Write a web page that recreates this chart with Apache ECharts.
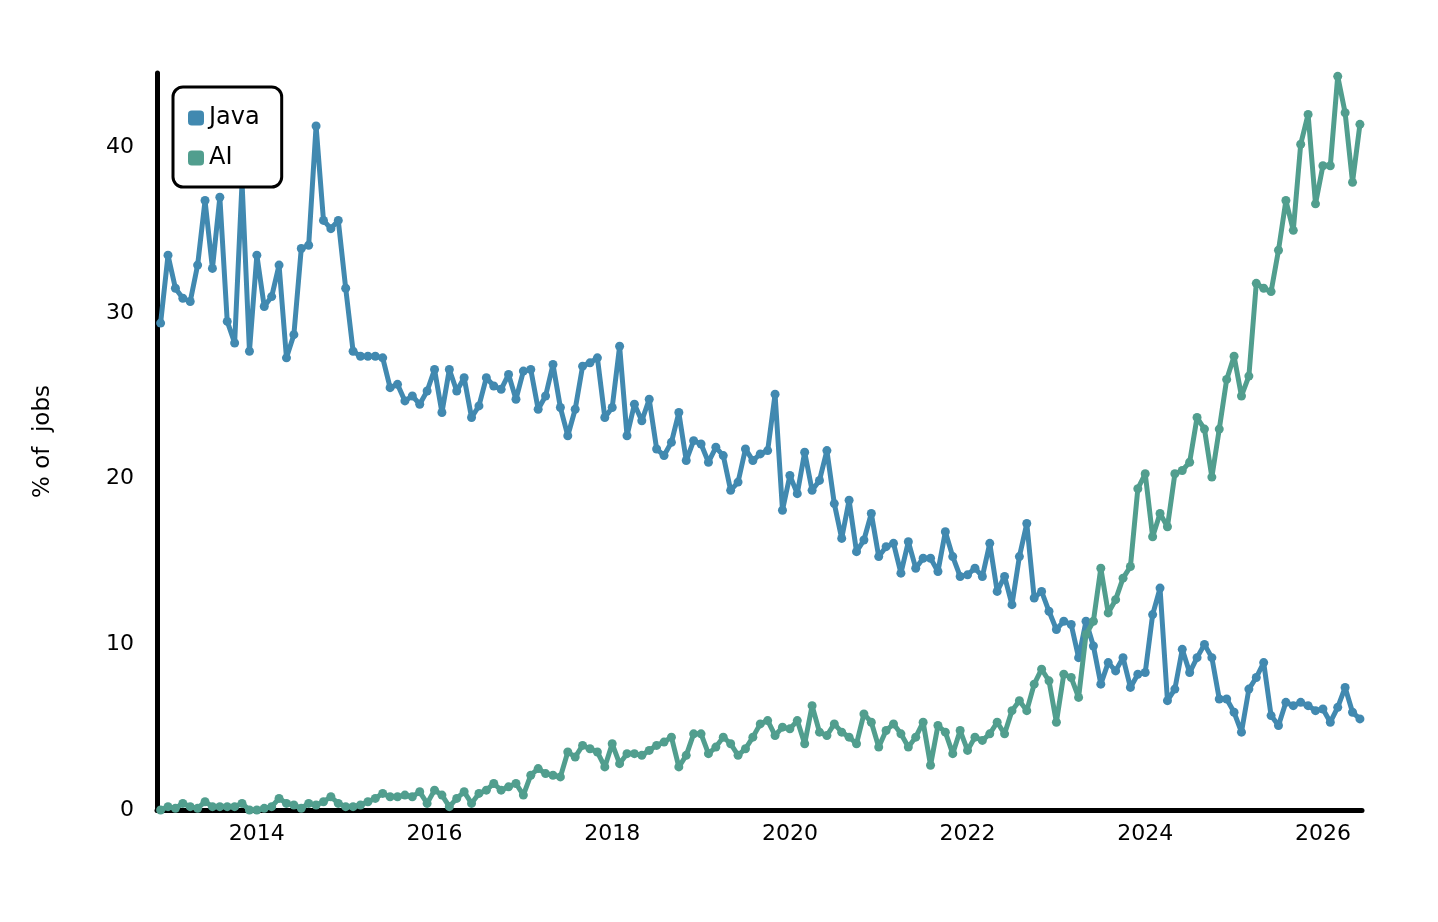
<!DOCTYPE html>
<html>
<head>
<meta charset="utf-8">
<script src="https://cdn.jsdelivr.net/npm/echarts@6/dist/echarts.min.js"></script>
<style>
  html, body { margin: 0; padding: 0; background: #fff; }
  #main { width: 1438px; height: 922px; }
</style>
</head>
<body>
<div id="main"></div>
<script>
// monthly share of job postings, first point Dec 2012
const startYear = 2012
const startMonth = 11 // 0-based, December
const javaShare = [
  29.4, 33.5, 31.5, 30.9, 30.7, 32.9, 36.8, 32.7, 37.0, 29.5, 28.2, 37.9, 27.7, 33.5, 30.4, 31.0,
  32.9, 27.3, 28.7, 33.9, 34.1, 41.3, 35.6, 35.1, 35.6, 31.5, 27.7, 27.4, 27.4, 27.4, 27.3, 25.5,
  25.7, 24.7, 25.0, 24.5, 25.3, 26.6, 24.0, 26.6, 25.3, 26.1, 23.7, 24.4, 26.1, 25.6, 25.4, 26.3,
  24.8, 26.5, 26.6, 24.2, 25.0, 26.9, 24.3, 22.6, 24.2, 26.8, 27.0, 27.3, 23.7, 24.3, 28.0, 22.6,
  24.5, 23.5, 24.8, 21.8, 21.4, 22.2, 24.0, 21.1, 22.3, 22.1, 21.0, 21.9, 21.4, 19.3, 19.8, 21.8,
  21.1, 21.5, 21.7, 25.1, 18.1, 20.2, 19.1, 21.6, 19.3, 19.9, 21.7, 18.5, 16.4, 18.7, 15.6, 16.3,
  17.9, 15.3, 15.9, 16.1, 14.3, 16.2, 14.6, 15.2, 15.2, 14.4, 16.8, 15.3, 14.1, 14.2, 14.6, 14.1,
  16.1, 13.2, 14.1, 12.4, 15.3, 17.3, 12.8, 13.2, 12.0, 10.9, 11.4, 11.2, 9.2, 11.4, 9.9, 7.6,
  8.9, 8.4, 9.2, 7.4, 8.2, 8.3, 11.8, 13.4, 6.6, 7.3, 9.7, 8.3, 9.2, 10.0, 9.2, 6.7,
  6.7, 5.9, 4.7, 7.3, 8.0, 8.9, 5.7, 5.1, 6.5, 6.3, 6.5, 6.3, 6.0, 6.1, 5.3, 6.2,
  7.4, 5.9, 5.5
]
const aiShare = [
  0.0, 0.2, 0.1, 0.4, 0.2, 0.1, 0.5, 0.2, 0.2, 0.2, 0.2, 0.4, 0.0, 0.0, 0.1, 0.2,
  0.7, 0.4, 0.3, 0.1, 0.4, 0.3, 0.5, 0.8, 0.4, 0.2, 0.2, 0.3, 0.5, 0.7, 1.0, 0.8,
  0.8, 0.9, 0.8, 1.1, 0.4, 1.2, 0.9, 0.2, 0.7, 1.1, 0.4, 1.0, 1.2, 1.6, 1.2, 1.4,
  1.6, 0.9, 2.1, 2.5, 2.2, 2.1, 2.0, 3.5, 3.2, 3.9, 3.7, 3.5, 2.6, 4.0, 2.8, 3.4,
  3.4, 3.3, 3.6, 3.9, 4.1, 4.4, 2.6, 3.3, 4.6, 4.6, 3.4, 3.8, 4.4, 4.0, 3.3, 3.7,
  4.4, 5.2, 5.4, 4.5, 5.0, 4.9, 5.4, 4.0, 6.3, 4.7, 4.5, 5.2, 4.7, 4.4, 4.0, 5.8,
  5.3, 3.8, 4.8, 5.2, 4.6, 3.8, 4.4, 5.3, 2.7, 5.1, 4.7, 3.4, 4.8, 3.6, 4.4, 4.2,
  4.6, 5.3, 4.6, 6.0, 6.6, 6.0, 7.6, 8.5, 7.8, 5.3, 8.2, 8.0, 6.8, 10.6, 11.4, 14.6,
  11.9, 12.7, 14.0, 14.7, 19.4, 20.3, 16.5, 17.9, 17.1, 20.3, 20.5, 21.0, 23.7, 23.0, 20.1, 23.0,
  26.0, 27.4, 25.0, 26.2, 31.8, 31.5, 31.3, 33.8, 36.8, 35.0, 40.2, 42.0, 36.6, 38.9, 38.9, 44.3,
  42.1, 37.9, 41.4
]
const yearTicks = [2014, 2016, 2018, 2020, 2022, 2024, 2026]

const FONT = '"DejaVu Sans", "Noto Sans", sans-serif'
const toYear = (i) => startYear + (startMonth + i) / 12

const chart = echarts.init(document.getElementById('main'))
chart.setOption({
  animation: false,
  textStyle: { fontFamily: FONT },
  grid: { left: 157, right: 76, top: 73, bottom: 112, containLabel: false },
  legend: {
    orient: 'vertical',
    left: 173,
    top: 87,
    padding: [19, 22, 17, 15],
    borderColor: '#000',
    borderWidth: 3,
    borderRadius: 10,
    backgroundColor: '#fff',
    itemWidth: 16,
    itemHeight: 15,
    itemGap: 16,
    icon: 'roundRect',
    textStyle: { fontSize: 24, color: '#000', fontFamily: FONT },
    data: ['Java', 'AI']
  },
  xAxis: {
    type: 'value',
    min: 2012.876,
    max: 2026.44,
    splitLine: { show: false },
    axisTick: { show: false },
    axisLine: { lineStyle: { color: '#000', width: 5 } },
    axisLabel: {
      customValues: yearTicks,
      color: '#000',
      fontSize: 22,
      margin: 13,
      formatter: (v) => String(Math.round(v))
    }
  },
  yAxis: {
    type: 'value',
    min: 0,
    max: 44.5,
    interval: 10,
    name: '% of  jobs',
    nameLocation: 'middle',
    nameGap: 102,
    nameRotate: 90,
    nameTextStyle: { fontSize: 23, color: '#000', fontFamily: FONT },
    splitLine: { show: false },
    axisTick: { show: false },
    axisLine: { show: true, lineStyle: { color: '#000', width: 5 } },
    axisLabel: { color: '#000', fontSize: 22, margin: 23, showMaxLabel: false }
  },
  series: [
    {
      name: 'Java',
      type: 'line',
      data: javaShare.map((v, i) => [toYear(i), v]),
      symbol: 'circle',
      symbolSize: 9,
      color: '#4189b0',
      lineStyle: { width: 5 },
      z: 3
    },
    {
      name: 'AI',
      type: 'line',
      data: aiShare.map((v, i) => [toYear(i), v]),
      symbol: 'circle',
      symbolSize: 9,
      color: '#519e8e',
      lineStyle: { width: 5 },
      z: 4
    }
  ]
})
</script>
</body>
</html>
